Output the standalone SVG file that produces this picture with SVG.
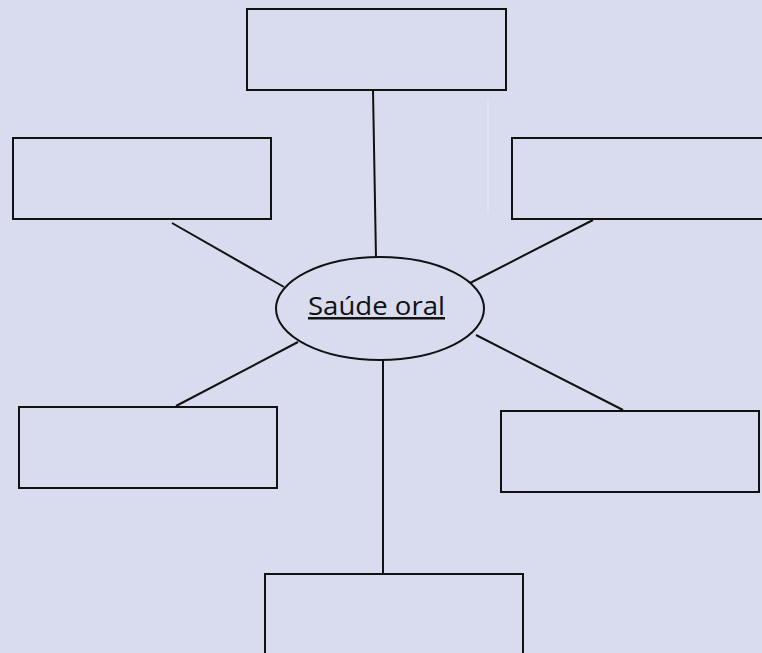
<svg xmlns="http://www.w3.org/2000/svg" width="762" height="653" viewBox="0 0 762 653">
<style>
.box{fill:#D9DCEE;stroke:#111;stroke-width:2}
.ln{stroke:#111;stroke-width:2;fill:none}
.lbl{font-family:"Open Sans","Liberation Sans",sans-serif;font-size:25px;fill:#111;text-decoration:underline}
</style>
<rect width="762" height="653" fill="#D9DCEE"/>
<line x1="488" y1="99" x2="488" y2="213" stroke="#E6E8F4" stroke-width="1"/>
<g id="connectors">
<line class="ln" x1="373" y1="90" x2="376" y2="258"/>
<line class="ln" x1="172" y1="223" x2="284" y2="287"/>
<line class="ln" x1="593" y1="220" x2="470" y2="283"/>
<line class="ln" x1="298" y1="342" x2="176" y2="406"/>
<line class="ln" x1="476" y1="335" x2="623" y2="410"/>
<line class="ln" x1="383" y1="360" x2="383" y2="574"/>
</g>
<g id="top"><rect class="box" x="247" y="9" width="259" height="81"/></g>
<g id="topleft"><rect class="box" x="13" y="138" width="258" height="81"/></g>
<g id="topright"><rect class="box" x="512" y="138" width="252" height="81"/></g>
<g id="bottomleft"><rect class="box" x="19" y="407" width="258" height="81"/></g>
<g id="bottomright"><rect class="box" x="501" y="411" width="258" height="81"/></g>
<g id="bottom"><rect class="box" x="265" y="574" width="258" height="84"/></g>
<g id="center">
<ellipse class="box" cx="380" cy="308.5" rx="104" ry="51.5"/>
<text class="lbl" x="308" y="315" textLength="137" lengthAdjust="spacingAndGlyphs">Saúde oral</text>
</g>
</svg>
